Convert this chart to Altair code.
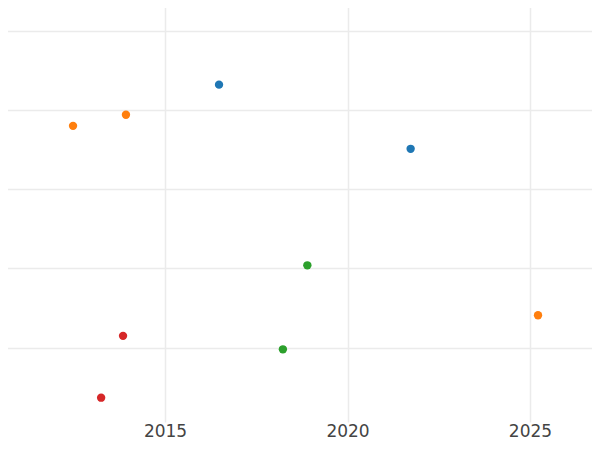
import altair as alt
import pandas as pd

# Data
series = ["A", "A", "B", "B", "B", "C", "C", "D", "D"]
years = [2016.48, 2021.73, 2012.48, 2013.93, 2025.22, 2018.90, 2018.23, 2013.85, 2013.25]
values = [4.32, 3.51, 3.80, 3.94, 1.41, 2.04, 0.98, 1.15, 0.37]
x_ticks = [2015, 2020, 2025]
y_ticks = [1, 2, 3, 4, 5]
colors = ["#1f77b4", "#ff7f0e", "#2ca02c", "#d62728"]

df = pd.DataFrame({"series": series, "year": years, "value": values})

chart = (
    alt.Chart(df)
    .mark_circle(size=70, opacity=1)
    .encode(
        x=alt.X(
            "year:Q",
            scale=alt.Scale(domain=[2010.479, 2026.918], nice=False, zero=False),
            axis=alt.Axis(
                values=x_ticks,
                format="d",
                title=None,
                domain=False,
                ticks=False,
                labelFontSize=17,
                labelColor="#444444",
                labelFont="DejaVu Sans",
                labelBaseline="alphabetic",
                labelPadding=14,
                gridColor="#ebebeb",
                gridWidth=1.5,
            ),
        ),
        y=alt.Y(
            "value:Q",
            scale=alt.Scale(domain=[0.063, 5.388], nice=False, zero=False),
            axis=alt.Axis(
                values=y_ticks,
                title=None,
                labels=False,
                domain=False,
                ticks=False,
                gridColor="#ebebeb",
                gridWidth=1.5,
            ),
        ),
        color=alt.Color(
            "series:N",
            scale=alt.Scale(domain=["A", "B", "C", "D"], range=colors),
            legend=None,
        ),
    )
    .properties(
        width=600,
        height=422,
        autosize=alt.AutoSizeParams(type="none"),
        padding={"left": -8, "top": -8, "right": -8, "bottom": 19},
    )
    .configure_view(stroke=None)
)

chart.save("out.html", embed_options={"renderer": "svg", "actions": False})
